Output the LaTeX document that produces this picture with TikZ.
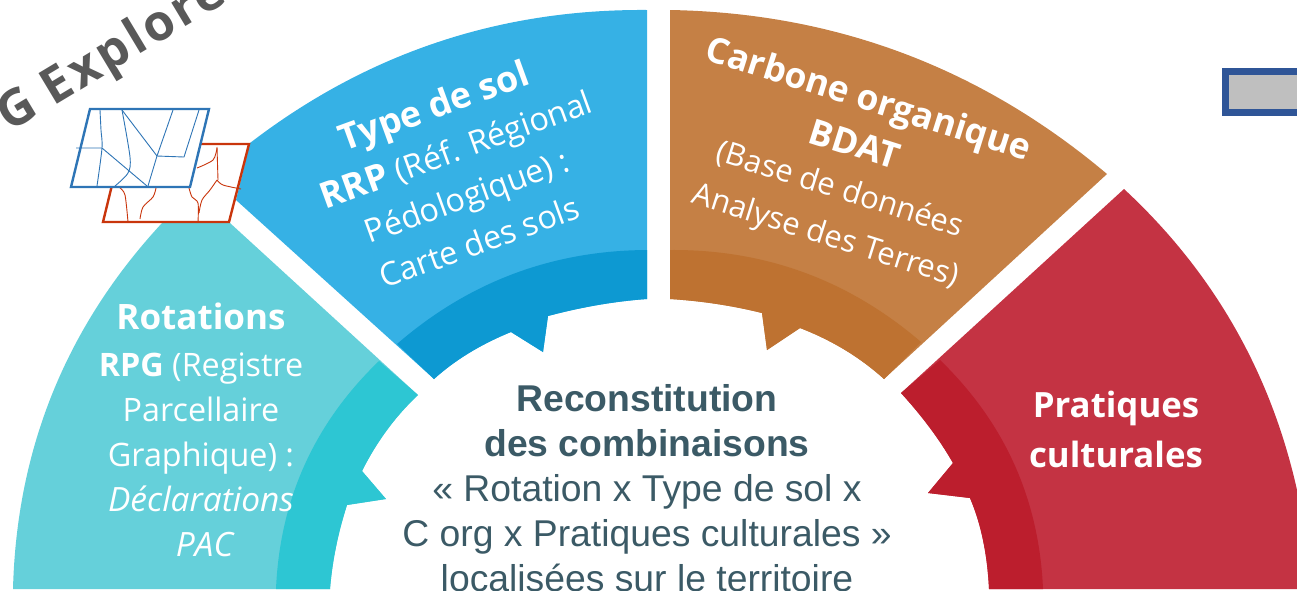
\documentclass[tikz,border=0pt]{standalone}
\usepackage{fontspec}
\setmainfont{Open Sans}
\newfontfamily\arialf{Liberation Sans}
\definecolor{tealL}{HTML}{65D0DA}
\definecolor{tealD}{HTML}{2DC6D3}
\definecolor{blueL}{HTML}{36B1E5}
\definecolor{blueD}{HTML}{0D99D2}
\definecolor{brownL}{HTML}{C58045}
\definecolor{brownD}{HTML}{BE7231}
\definecolor{redL}{HTML}{C43343}
\definecolor{redD}{HTML}{BC1E2D}
\definecolor{centertxt}{HTML}{3B5A66}
\definecolor{greytxt}{HTML}{595959}
\definecolor{parcelblue}{HTML}{2E75B6}
\definecolor{parcelred}{HTML}{C9350C}
\definecolor{boxblue}{HTML}{2F5597}
\tikzset{
  seglabel/.style={text=white,align=center,inner sep=0pt,font=\fontsize{32.3}{45}\selectfont},
  centerlabel/.style={text=centertxt,align=center,inner sep=0pt,font=\arialf\fontsize{37.3}{45}\selectfont},
  pbluethin/.style={draw=parcelblue,line width=0.9pt,line join=round},
  predthin/.style={draw=parcelred,line width=0.9pt,line join=round},
  pblueedge/.style={draw=parcelblue,fill=white,line width=2.4pt,line join=miter},
  prededge/.style={draw=parcelred,fill=white,line width=2.4pt,line join=miter}
}
\newcommand{\bighead}[2][35]{{\fontsize{#1}{45}\selectfont\bfseries #2}}
\begin{document}
\begin{tikzpicture}[x=1pt,y=-1pt]
\useasboundingbox (0,0) rectangle (1297,590);
\clip (0,0) rectangle (1297,590);
% teal
\fill[tealL] (13,589) .. controls (16.7,448.3) and (66.3,326.3) .. (162,223) -- (230,223) -- (418,395)
  .. controls (395.3,416.3) and (376.7,441.7) .. (362,471) -- (386,499) -- (347,505)
  .. controls (338,533) and (332.3,561) .. (330,589) -- cycle;
\fill[tealD] (379,361) .. controls (314.3,423.3) and (279.9,499.3) .. (276,589) -- (330,589)
  .. controls (332.3,561) and (338,533) .. (347,505) -- (386,499) -- (362,471)
  .. controls (376.7,441.7) and (395.3,416.3) .. (418,395) -- cycle;
% blue
\fill[blueL] (250,143) .. controls (367,53.2) and (499.3,8.9) .. (647,10) -- (647,299)
  .. controls (614.7,301.3) and (581.7,307) .. (548,316) -- (543,352) -- (511,332)
  .. controls (480.7,344.3) and (455,360) .. (434,379) -- (236,200) -- cycle;
\fill[blueD] (397,344) .. controls (468.7,281.9) and (552.1,250.5) .. (647,250) -- (647,299)
  .. controls (614.7,301.3) and (581.7,307) .. (548,316) -- (543,352) -- (511,332)
  .. controls (480.7,344.3) and (455,360) .. (434,379) -- cycle;
% brown
\fill[brownL] (670,10) .. controls (835.1,12.9) and (980.8,67.6) .. (1107,174) -- (884,379)
  .. controls (860,357.3) and (832,340.3) .. (800,328) -- (767,350) -- (762,313)
  .. controls (732.7,305.7) and (702,301) .. (670,299) -- cycle;
\fill[brownD] (670,250) .. controls (765.1,249.3) and (848.8,280) .. (921,342) -- (884,379)
  .. controls (860,357.3) and (832,340.3) .. (800,328) -- (767,350) -- (762,313)
  .. controls (732.7,305.7) and (702,301) .. (670,299) -- cycle;
% red
\fill[redL] (1124,189) .. controls (1212.9,271.5) and (1270.5,371.8) .. (1297,490) -- (1297,589) -- (989,589)
  .. controls (987.3,554) and (981,523.7) .. (970,498) -- (928,493) -- (953,463)
  .. controls (939.7,439.7) and (922.3,416.3) .. (901,393) -- cycle;
\fill[redD] (940,360) .. controls (1004.7,422.7) and (1039.1,499.1) .. (1043,589) -- (989,589)
  .. controls (987.3,554) and (981,523.7) .. (970,498) -- (928,493) -- (953,463)
  .. controls (939.7,439.7) and (922.3,416.3) .. (901,393) -- cycle;
% grey box
\draw[draw=boxblue,fill=black!25,line width=6.5pt] (1225.5,71.5) rectangle (1320,112.5);
% parcels
\draw[prededge] (122,144) -- (249,144) -- (229,222) -- (103,222) -- cycle;
\draw[predthin] plot[smooth] coordinates {(120,188) (125,195) (128,222)};
\draw[predthin] plot[smooth] coordinates {(156,188) (153,197) (143,207) (140,219)};
\draw[predthin] plot[smooth] coordinates {(189,188) (192,197) (198,203) (198,222)};
\draw[predthin] plot[smooth] coordinates {(217,180) (210,190) (202,200) (199,213)};
\draw[predthin] (217,147) -- (218,180);
\draw[predthin] plot[smooth] coordinates {(217,148) (213,160) (197,168)};
\draw[predthin] plot[smooth] coordinates {(217,180) (223,185) (241,189)};
\draw[pblueedge] (90,109) -- (209,109) -- (190,187) -- (71,187) -- cycle;
\draw[pbluethin] plot[smooth] coordinates {(100,110) (101,130) (102,148) (97,186)};
\draw[pbluethin] (76,148) -- (102,148) -- (147,186);
\draw[pbluethin] plot[smooth] coordinates {(122,110) (130,157) (128,173) (115,186)};
\draw[pbluethin] (122,110) -- (157,156);
\draw[pbluethin] (173,110) -- (157,156) -- (148,186);
\draw[pbluethin] (157,156) -- (184,157) -- (199,110);
% texts
\node[text=greytxt,inner sep=0pt,rotate=31,anchor=base west,font=\fontsize{50}{56}\selectfont\bfseries\addfontfeature{LetterSpace=6}] (titre) at (9,133) {G Explorer};
\node[seglabel] (rotations) at (201,429.5) {\bighead{Rotations}\\[2pt]\textbf{RPG} (Registre\\Parcellaire\\Graphique) :\\{\fontsize{33.5}{45}\selectfont\itshape Déclarations}\\\hspace*{7pt}{\fontsize{33.5}{45}\selectfont\itshape PAC}};
\node[seglabel,font=\fontsize{32.3}{47.5}\selectfont,rotate=20] (typesol) at (458,172) {\bighead[36]{Type de sol}\\\hspace*{12pt}\bighead[36]{RRP} (Réf. Régional\\Pédologique) :\\Carte des sols\hspace*{8pt}};
\node[seglabel,font=\fontsize{31}{48}\selectfont,rotate=-17.5] (carbone) at (847,168) {\bighead[35.5]{Carbone organique}\\\bighead[35.5]{BDAT}\\[-3pt](Base de données\\Analyse des Terres)};
\node[seglabel,font=\fontsize{34.8}{50}\selectfont\bfseries] (pratiques) at (1116,429) {Pratiques\\culturales};
\node[centerlabel] (centre) at (647,488) {\textbf{Reconstitution}\\\textbf{des combinaisons}\\« Rotation x Type de sol x\\C org x Pratiques culturales »\\localisées sur le territoire};
\end{tikzpicture}
\end{document}
